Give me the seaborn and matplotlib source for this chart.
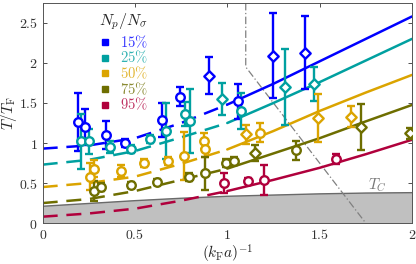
import seaborn as sns
import pandas as pd
import matplotlib
matplotlib.use('Agg')
import matplotlib.pyplot as plt
from matplotlib.lines import Line2D

series = ['15%', '25%', '50%', '75%', '95%']
colors = ['#0000ff', '#00a0a0', '#dba400', '#6e6e00', '#b0003c']

# fit curves read at fixed (k_F a)^-1 values
fit_x = [0, 0.25, 0.5, 0.75, 1.0, 1.25, 1.5, 1.75, 2.0]
fit_15 = [0.93, 0.97, 1.06, 1.25, 1.48, 1.74, 2.02, 2.30, 2.58]
fit_25 = [0.73, 0.79, 0.90, 1.07, 1.25, 1.50, 1.76, 2.03, 2.30]
fit_50 = [0.45, 0.50, 0.58, 0.74, 0.92, 1.15, 1.40, 1.63, 1.85]
fit_75 = [0.25, 0.30, 0.40, 0.54, 0.68, 0.87, 1.06, 1.27, 1.475]
fit_95 = [0.08, 0.12, 0.18, 0.28, 0.40, 0.54, 0.69, 0.86, 1.04]

# critical temperature (shaded region)
tc_y = [0.21, 0.245, 0.28, 0.31, 0.335, 0.35, 0.365, 0.375, 0.38]

# dash-dot boundary
bound_x = [1.10, 1.10, 1.75]
bound_y = [2.75, 1.95, 0.0]

# measured points (o = circle, D = diamond)
x15 = [0.19, 0.23, 0.345, 0.445, 0.647, 0.742, 0.90, 1.06, 1.25, 1.42]
y15 = [1.26, 1.20, 1.10, 1.00, 1.29, 1.58, 1.84, 1.52, 2.09, 2.13]
e15 = [0.36, 0.22, 0.18, 0.05, 0.21, 0.12, 0.23, 0.22, 0.53, 0.46]
m15 = ['o', 'o', 'o', 'o', 'o', 'o', 'D', 'o', 'D', 'D']

x25 = [0.21, 0.25, 0.365, 0.48, 0.58, 0.67, 0.77, 0.80, 0.97, 1.075, 1.315, 1.47]
y25 = [1.02, 1.02, 0.95, 0.93, 1.05, 1.15, 1.36, 1.27, 1.55, 1.40, 1.70, 1.74]
e25 = [0.34, 0.16, 0.08, 0.05, 0.05, 0.35, 0.15, 0.40, 0.20, 0.22, 0.48, 0.21]
m25 = ['o', 'o', 'o', 'o', 'o', 'o', 'o', 'o', 'D', 'o', 'D', 'D']

x50 = [0.254, 0.28, 0.425, 0.55, 0.68, 0.765, 0.875, 0.88, 1.10, 1.175, 1.49, 1.67]
y50 = [0.58, 0.68, 0.65, 0.75, 0.78, 0.84, 1.02, 0.93, 1.11, 1.13, 1.31, 1.33]
e50 = [0.17, 0.11, 0.08, 0.05, 0.05, 0.30, 0.10, 0.10, 0.12, 0.12, 0.30, 0.13]
m50 = ['o', 'o', 'o', 'o', 'o', 'o', 'o', 'o', 'D', 'o', 'D', 'D']

x75 = [0.28, 0.317, 0.48, 0.62, 0.79, 0.877, 0.995, 1.035, 1.15, 1.37, 1.725, 1.99]
y75 = [0.40, 0.45, 0.475, 0.51, 0.57, 0.62, 0.75, 0.77, 0.87, 0.91, 1.20, 1.12]
e75 = [0.13, 0.05, 0.04, 0.04, 0.05, 0.21, 0.05, 0.05, 0.10, 0.12, 0.29, 0.07]
m75 = ['o', 'o', 'o', 'o', 'o', 'o', 'o', 'o', 'D', 'o', 'D', 'D']

x95 = [0.98, 1.11, 1.20, 1.59]
y95 = [0.50, 0.53, 0.54, 0.80]
e95 = [0.13, 0.03, 0.19, 0.06]
m95 = ['o', 'o', 'o', 'o']

xticks = [0, 0.5, 1, 1.5, 2]
yticks = [0, 0.5, 1, 1.5, 2, 2.5]

sns.set_style('ticks')
plt.rcParams['font.family'] = ['DejaVu Serif']
plt.rcParams['mathtext.fontset'] = 'cm'

fits = [fit_15, fit_25, fit_50, fit_75, fit_95]
pts = [(x15, y15, e15, m15), (x25, y25, e25, m25), (x50, y50, e50, m50),
       (x75, y75, e75, m75), (x95, y95, e95, m95)]

fig = plt.figure(figsize=(4.16, 2.64), dpi=100)
ax = fig.add_axes([0.1026, 0.155, 0.8875, 0.834])

ax.fill_between(fit_x, 0, tc_y, color='#c0c0c0', zorder=1)
ax.plot(fit_x, tc_y, color='#6a6a6a', lw=1.0, zorder=1)
ax.plot(bound_x, bound_y, color='#808080', lw=0.9, ls=(0, (6, 2, 1, 2)), zorder=1)
ax.text(1.76, 0.42, r'$T_C$', color='#777777', fontsize=11)

for fy, c in zip(fits, colors):
    df = pd.DataFrame({'x': fit_x, 'y': fy})
    dashed = df[df.x <= 1.0]
    solid = df[df.x >= 1.0]
    sns.lineplot(data=dashed, x='x', y='y', color=c, lw=1.8, ax=ax,
                 zorder=2).lines[-1].set_dashes([6, 3.5])
    sns.lineplot(data=solid, x='x', y='y', color=c, lw=1.8, ax=ax, zorder=2)

for (px, py, pe, pm), c in zip(pts, colors):
    ax.errorbar(px, py, yerr=pe, fmt='none', ecolor=c, elinewidth=1.7,
                capsize=2.8, capthick=1.7, zorder=3)
    for mk in ['o', 'D']:
        sel = [i for i, m in enumerate(pm) if m == mk]
        if not sel:
            continue
        ax.scatter([px[i] for i in sel], [py[i] for i in sel], marker=mk,
                   s=38 if mk == 'o' else 28, facecolor='white', edgecolor=c,
                   linewidth=1.7, zorder=4)

ax.set_xlim(0, 2)
ax.set_ylim(0, 2.75)
ax.set_xticks(xticks)
ax.set_xticklabels(['$%g$' % t for t in xticks])
ax.set_yticks(yticks)
ax.set_yticklabels(['$%g$' % t for t in yticks])
ax.tick_params(direction='in', top=True, right=True, labelsize=10, length=3,
               width=0.6, colors='#333333')
for s in ax.spines.values():
    s.set_linewidth(0.7)
    s.set_color('#555555')
ax.set_xlabel(r'$(k_\mathrm{F}a)^{-1}$', fontsize=11)
ax.set_ylabel(r'$T/T_\mathrm{F}$', fontsize=11)
ax.xaxis.set_label_coords(0.5, -0.088)
ax.yaxis.set_label_coords(-0.063, 0.5)

handles = [Line2D([], [], marker='s', ls='none', color=c, markersize=5) for c in colors]
labels = [r'$%s\%%$' % s[:-1] for s in series]
leg = ax.legend(handles, labels, loc='upper left', bbox_to_anchor=(0.13, 1.0),
                frameon=False, handlelength=0.8, handletextpad=0.6,
                labelspacing=-0.05, fontsize=10.5, title=r'$N_p/N_\sigma$',
                title_fontsize=11.5, borderaxespad=0.2)
leg._legend_box.sep = 1
for t, c in zip(leg.get_texts(), colors):
    t.set_color(c)
    t.set_alpha(0.8)

fig.savefig('out.png', dpi=100)
